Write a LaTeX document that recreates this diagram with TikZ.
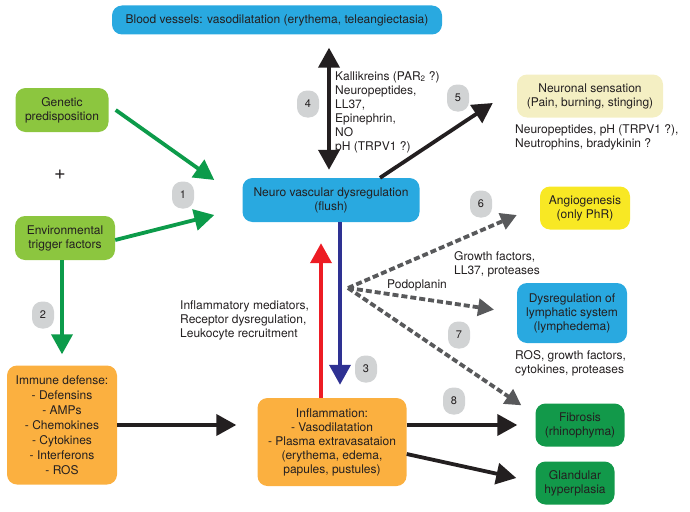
\documentclass[tikz,border=0pt]{standalone}
\usepackage{fontspec}
\setmainfont{TeX Gyre Heros}
\usetikzlibrary{arrows.meta}
% colours of the boxes and arrows
\definecolor{vesselblue}{HTML}{29A9E0}
\definecolor{leafgreen}{HTML}{8CC63F}
\definecolor{deepgreen}{HTML}{12994A}
\definecolor{arrowgreen}{HTML}{0C9B4A}
\definecolor{orangebox}{HTML}{FBB040}
\definecolor{paleyellow}{HTML}{F4EFC3}
\definecolor{brightyellow}{HTML}{F8E824}
\definecolor{badgegray}{HTML}{D1D3D4}
\definecolor{dashgray}{HTML}{58595B}
\definecolor{inkgray}{HTML}{231F20}
\definecolor{upred}{HTML}{ED1C24}
\definecolor{downblue}{HTML}{2E3192}
\tikzset{
  box/.style={rounded corners=10pt, align=center, inner sep=0pt,
    text=inkgray, font=\fontsize{12}{14}\selectfont},
  note/.style={align=left, inner sep=0pt, text=inkgray,
    font=\fontsize{12}{14}\selectfont},
  badge/.style={fill=badgegray, rounded corners=10pt, minimum width=22pt,
    minimum height=27pt, inner sep=0pt, text=inkgray,
    font=\fontsize{11}{13}\selectfont},
  fat/.style={line width=3.8pt, -{Triangle[length=20pt,width=21pt]}},
  dashfat/.style={line width=3.8pt, dash pattern=on 6pt off 3pt, dashgray,
    -{Triangle[length=16pt,width=17pt]}}
}
\begin{document}
\begin{tikzpicture}[x=1pt,y=-1pt]
\useasboundingbox (0,0) rectangle (690,511);
% the boxes, placed at the pixel positions of the figure
\node[box, fill=vesselblue, minimum width=330pt, minimum height=29pt] (blood) at (277,20)
    {Blood vessels: vasodilatation (erythema, teleangiectasia)};
\node[box, fill=leafgreen, minimum width=93pt, minimum height=44pt] (genetic) at (62,110)
    {Genetic\\predisposition};
\node[box, fill=leafgreen, minimum width=100pt, minimum height=44pt] (envir) at (65,238)
    {Environmental\\trigger factors};
\node[box, fill=vesselblue, minimum width=177pt, minimum height=44pt] (neuro) at (331,200)
    {Neuro vascular dysregulation\\(flush)};
\node[box, fill=paleyellow, minimum width=146pt, minimum height=43pt] (neuronal) at (590,96)
    {Neuronal sensation\\(Pain, burning, stinging)};
\node[box, fill=brightyellow, minimum width=90pt, minimum height=43pt] (angio) at (585,208)
    {Angiogenesis\\(only PhR)};
\node[box, fill=vesselblue, minimum width=110pt, minimum height=60pt] (lymph) at (572,313)
    {Dysregulation of\\lymphatic system\\(lymphedema)};
\node[box, fill=deepgreen, minimum width=89pt, minimum height=43pt] (fibro) at (580,425)
    {Fibrosis\\(rhinophyma)};
\node[box, fill=deepgreen, minimum width=79pt, minimum height=43pt] (gland) at (575,483)
    {Glandular\\hyperplasia};
\node[box, fill=orangebox, minimum width=149pt, minimum height=88pt] (inflam) at (332,442)
    {Inflammation:\\- Vasodilatation\\- Plasma extravasataion\\(erythema, edema,\\papules, pustules)};
\node[box, fill=orangebox, minimum width=110pt, minimum height=119pt,
      font=\fontsize{12}{15}\selectfont] (immune) at (62,425)
    {Immune defense:\\- Defensins\\- AMPs\\- Chemokines\\- Cytokines\\- Interferons\\- ROS};
% free texts
\node[note, font=\fontsize{20}{20}\selectfont] (plus) at (60,175) {+};
\node[note, anchor=north west] (kallitxt) at (335,71)
    {Kallikreins (PAR\textsubscript{2} ?)\\Neuropeptides,\\LL37,\\Epinephrin,\\NO\\pH (TRPV1 ?)};
\node[note, anchor=north west] (neurotxt) at (515,124)
    {Neuropeptides, pH (TRPV1 ?),\\Neutrophins, bradykinin ?};
\node[note, anchor=north west] (growthtxt) at (454,251)
    {Growth factors,\\LL37, proteases};
\node[note] (podotxt) at (417,285) {Podoplanin};
\node[note, anchor=north west] (rostxt) at (515,350)
    {ROS, growth factors,\\cytokines, proteases};
\node[note, anchor=north west] (mediatxt) at (180,301)
    {Inflammatory mediators,\\Receptor dysregulation,\\Leukocyte recruitment};
% numbered badges
\foreach \n/\p in {1/{(183,195)}, 2/{(43,315)}, 3/{(366,369)}, 4/{(308,104)},
                   5/{(458,98)}, 6/{(481,204)}, 7/{(459,335)}, 8/{(454,401)}}
  \node[badge] (b\n) at \p {\n};
% arrows
\draw[fat, arrowgreen] ([xshift=7pt]genetic.east) -- ([shift={(-28,-20)}]neuro.west);
\draw[fat, arrowgreen] ([shift={(0,2)}]envir.east) -- ([shift={(-28,15)}]neuro.west);
\draw[fat, arrowgreen, shorten >=11pt] (envir.south -| immune.north) -- (immune.north);
\draw[line width=3.8pt, inkgray, {Triangle[length=20pt,width=21pt]}-{Triangle[length=20pt,width=21pt]},
      shorten <=13pt, shorten >=8pt] ([xshift=-2pt]blood.south -| neuro.north) -- ([xshift=-2pt]neuro.north);
\draw[fat, inkgray] ([xshift=49pt]neuro.north) -- ([shift={(-24,7)}]neuronal.west);
\draw[fat, upred, shorten >=21pt] ([xshift=-11pt]inflam.north) -- ([xshift=-11pt]inflam.north |- neuro.south);
\draw[fat, downblue, shorten >=13pt] ([xshift=9pt]neuro.south) -- ([xshift=9pt]neuro.south |- inflam.north);
% dashed fan towards the late changes
\coordinate (fork) at (348,288);
\draw[dashfat] (fork) -- ([shift={(-23,7)}]angio.west);
\draw[dashfat, shorten >=23pt] (fork) -- (lymph.west);
\draw[dashfat] (fork) -- ([shift={(-14,2)}]fibro.north west);
\draw[fat, inkgray, shorten >=21pt] (immune.east) -- (immune.east -| inflam.west);
\draw[fat, inkgray, shorten >=18pt] (inflam.east |- fibro.west) -- (fibro.west);
\draw[fat, inkgray] ([yshift=-12pt]inflam.east) -- ([shift={(-19,-5)}]gland.west);
\end{tikzpicture}
\end{document}
